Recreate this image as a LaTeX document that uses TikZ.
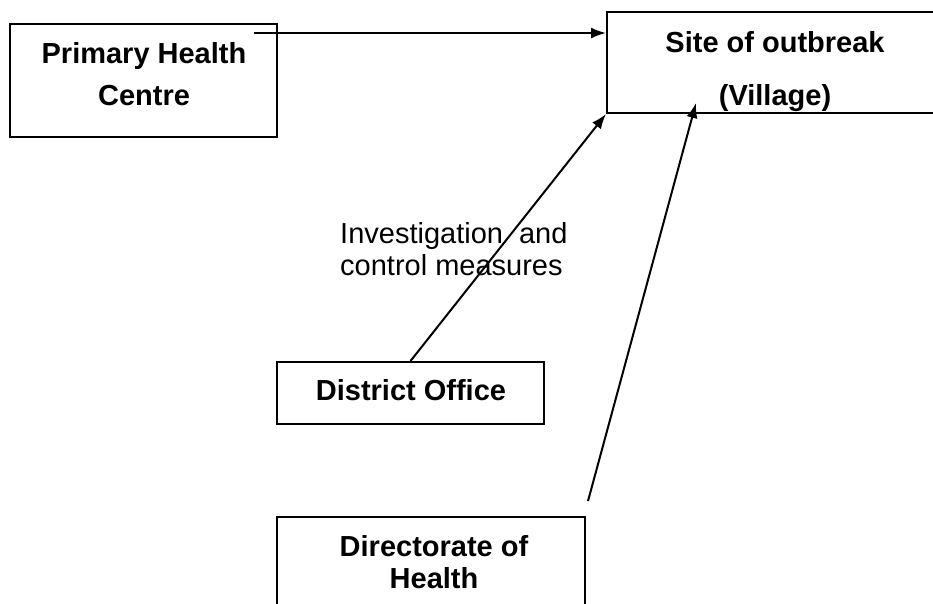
\documentclass[tikz,border=0pt]{standalone}
\usepackage{fontspec}
\setmainfont{Liberation Sans}
\usetikzlibrary{arrows.meta}
\begin{document}
\begin{tikzpicture}[x=1pt,y=-1pt,
  box/.style={draw=black, line width=2pt, inner sep=0pt},
  title/.style={font=\bfseries\fontsize{29}{32}\selectfont, anchor=base, inner sep=0pt, align=center},
  note/.style={font=\fontsize{29}{32}\selectfont, anchor=base west, inner sep=0pt, align=left},
  link/.style={line width=2pt, -{Latex[length=15pt,width=11pt]}}
]
\useasboundingbox (0,0) rectangle (933,603);
\begin{scope}
\clip (0,0) rectangle (933,603);

% boxes
\node[box, minimum width=267pt, minimum height=113pt] (phc) at (143.5,80.5) {};
\node[box, minimum width=338pt, minimum height=101pt] (site) at (776,62.5) {};
\node[box, minimum width=267pt, minimum height=62pt] (district) at (410.5,393) {};
\node[box, minimum width=308pt, minimum height=103pt] (dir) at (431,568.5) {};

% box texts (anchored on the baseline of the last line)
\node[title, font=\bfseries\fontsize{29}{42}\selectfont] (phcText) at (144,105) {Primary Health\\Centre};
\node[title, font=\bfseries\fontsize{29}{53}\selectfont] (siteText) at (775,105) {Site of outbreak\\(Village)};
\node[title] (districtText) at (411,400) {District Office};
\node[title] (dirText) at (434,588) {Directorate of\\Health};

% label on the district link
\node[note] (measures) at (340,275) {Investigation\ \ and\\control measures};

% connectors
\coordinate (phcOut) at (254,33);
\draw[link] (phcOut) -- (site.west |- phcOut);
\draw[link] (district.north) -- (site.south west);
\coordinate (dirOut) at (588,501);
\coordinate (siteIn) at (696,103);
\draw[link] (dirOut) -- (siteIn);
\end{scope}
\end{tikzpicture}
\end{document}
